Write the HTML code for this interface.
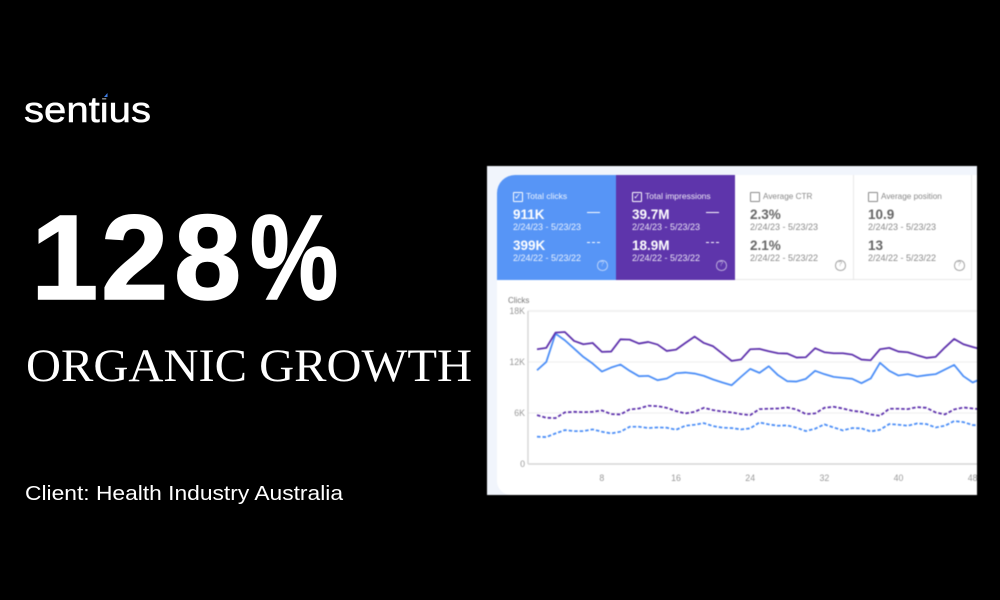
<!DOCTYPE html>
<html lang="en">
<head>
<meta charset="utf-8">
<title>Sentius case study: 128% organic growth</title>
<style>
html,body{margin:0;padding:0;background:#000;}
#stage{position:relative;width:1000px;height:600px;overflow:hidden;background:#000;font-family:"Liberation Sans",sans-serif;}
#headline{position:absolute;left:0;top:0;}
#shot{position:absolute;left:487px;top:166px;width:490px;height:329px;background:#f1f5fc;overflow:hidden;filter:blur(.4px);}
#white-panel{position:absolute;left:10px;top:9px;width:480px;height:320px;background:#fff;border-radius:18px 0 0 14px;}
.card{position:absolute;top:9px;height:105px;box-sizing:border-box;}
#c1{left:10px;width:119px;background:#5795f6;color:#fff;border-radius:18px 0 0 0;}
#c2{left:129px;width:119px;background:#5e35ab;color:#fff;}
#c3{left:248px;width:118px;background:#fff;color:#666;border-bottom:1px solid #e8e8e8;}
#c4{left:366px;width:119px;background:#fff;color:#666;border-left:1px solid #e8e8e8;border-right:1px solid #e8e8e8;border-bottom:1px solid #e8e8e8;}
.card span,.card i{position:absolute;display:block;white-space:nowrap;font-style:normal;}
.cb{left:16px;top:17px;width:7.5px;height:7.5px;border:1px solid currentColor;border-radius:1px;font-size:8px;line-height:8px;text-align:center;}
#c3 .cb,#c4 .cb{color:#8a8a8a;left:15px;}
#c4 .cb{left:14px;}
.lbl{left:29px;top:16px;font-size:8.5px;line-height:11px;opacity:.9;}
#c3 .lbl,#c4 .lbl{font-size:8.2px;color:#888;opacity:1;left:28px;}
#c4 .lbl{left:27px;}
.v1{left:16px;top:32px;font-size:13.5px;line-height:15px;font-weight:bold;}
.d1{left:16px;top:47px;font-size:9px;line-height:10px;opacity:.88;}
.v2{left:16px;top:63px;font-size:13.5px;line-height:15px;font-weight:bold;}
.d2{left:16px;top:78px;font-size:9px;line-height:10px;opacity:.88;}
#c3 .d1,#c3 .d2,#c4 .d1,#c4 .d2{color:#8a8a8a;opacity:1;}
#c3 .v1,#c3 .v2,#c3 .d1,#c3 .d2{left:15px;}
#c4 .v1,#c4 .v2,#c4 .d1,#c4 .d2{left:14px;}
.sol{left:90px;top:36.5px;width:13px;height:1.6px;background:#fff;}
.dsh{left:90px;top:66.5px;width:13px;height:0;border-top:1.5px dashed #fff;}
.help{left:100px;top:85px;width:8.5px;height:8.5px;border:1px solid currentColor;border-radius:50%;font-size:7px;line-height:8.5px;text-align:center;opacity:.6;}
#chart{position:absolute;left:0;top:0;}
</style>
</head>
<body>
<div id="stage">
<svg id="headline" width="1000" height="600">
  <text x="24" y="122" font-family="Liberation Sans, sans-serif" font-size="36" fill="#fff" stroke="#fff" stroke-width=".5" textLength="127" lengthAdjust="spacingAndGlyphs">sentius</text>
  <rect x="102" y="91" width="8" height="7.5" fill="#000"/>
  <polygon points="104,97 107.5,93 107.5,97" fill="#3f7fe8"/>
  <text x="31 101 174" y="299" font-family="Liberation Sans, sans-serif" font-weight="bold" font-size="121" fill="#fff" stroke="#fff" stroke-width="1.5">128</text>
  <text transform="translate(250,299) scale(.82,1)" font-family="Liberation Sans, sans-serif" font-weight="bold" font-size="121" fill="#fff" stroke="#fff" stroke-width="1.5">%</text>
  <text x="26" y="381" font-family="Liberation Serif, serif" font-size="47" fill="#fff" textLength="446" lengthAdjust="spacingAndGlyphs">ORGANIC GROWTH</text>
  <text x="25" y="500" font-family="Liberation Sans, sans-serif" font-size="20.5" fill="#fff" textLength="318" lengthAdjust="spacingAndGlyphs">Client: Health Industry Australia</text>
</svg>

<div id="shot">
  <div id="white-panel"></div>

  <div class="card" id="c1">
    <i class="cb">✓</i>
    <span class="lbl">Total clicks</span>
    <span class="v1">911K</span>
    <span class="d1">2/24/23 - 5/23/23</span>
    <i class="sol"></i>
    <span class="v2">399K</span>
    <span class="d2">2/24/22 - 5/23/22</span>
    <i class="dsh"></i>
    <i class="help">?</i>
  </div>
  <div class="card" id="c2">
    <i class="cb">✓</i>
    <span class="lbl">Total impressions</span>
    <span class="v1">39.7M</span>
    <span class="d1">2/24/23 - 5/23/23</span>
    <i class="sol"></i>
    <span class="v2">18.9M</span>
    <span class="d2">2/24/22 - 5/23/22</span>
    <i class="dsh"></i>
    <i class="help">?</i>
  </div>
  <div class="card" id="c3">
    <i class="cb"></i>
    <span class="lbl">Average CTR</span>
    <span class="v1">2.3%</span>
    <span class="d1">2/24/23 - 5/23/23</span>
    <span class="v2">2.1%</span>
    <span class="d2">2/24/22 - 5/23/22</span>
    <i class="help">?</i>
  </div>
  <div class="card" id="c4">
    <i class="cb"></i>
    <span class="lbl">Average position</span>
    <span class="v1">10.9</span>
    <span class="d1">2/24/23 - 5/23/23</span>
    <span class="v2">13</span>
    <span class="d2">2/24/22 - 5/23/22</span>
    <i class="help">?</i>
  </div>

  <svg id="chart" width="490" height="329"></svg>
</div>
</div>

<script>
const xTickLabels = [8, 16, 24, 32, 40, 48];
const yTickValues = [0, 6, 12, 18];
const yTickLabels = ["0", "6K", "12K", "18K"];
const impressionsCurrent = [13.50,13.66,15.46,15.53,14.48,14.09,14.24,13.19,13.23,14.67,14.63,14.17,14.36,14.05,13.30,13.46,14.24,14.99,14.24,13.85,12.99,12.13,12.29,13.50,13.54,13.27,13.03,12.99,12.52,12.56,13.62,13.15,13.03,13.03,12.87,12.29,12.21,13.50,13.66,13.23,13.15,12.80,12.48,12.60,13.70,14.71,14.09,13.77,13.46];
const clicksCurrent = [11.03,12.01,15.34,14.56,13.58,12.60,11.82,10.88,11.35,11.70,10.96,10.33,10.37,9.86,10.06,10.68,10.76,10.64,10.37,9.94,9.59,9.27,10.25,11.19,10.72,11.50,10.45,9.74,9.70,10.02,10.96,10.57,10.25,10.13,10.02,9.51,10.06,11.90,10.96,10.41,10.57,10.29,10.45,10.57,11.11,11.66,10.33,9.59,10.06];
const impressionsPrevious = [5.75,5.44,5.40,6.07,6.14,6.10,6.14,6.30,5.87,5.83,6.42,6.53,6.85,6.81,6.61,6.22,5.95,6.14,6.61,6.34,6.18,6.07,5.87,5.75,6.46,6.50,6.53,6.65,6.42,5.87,5.95,6.61,6.73,6.53,6.26,6.14,5.83,5.67,6.50,6.50,6.46,6.69,6.61,6.07,5.83,6.42,6.65,6.53,6.42];
const clicksPrevious = [3.21,3.17,3.60,3.99,3.87,3.87,4.07,3.80,3.60,3.80,4.38,4.38,4.23,4.30,4.27,4.03,4.50,4.62,4.81,4.46,4.27,4.23,4.07,4.19,4.89,4.66,4.50,4.54,4.27,3.87,4.15,4.66,4.30,3.95,4.23,4.19,3.83,4.03,4.70,4.62,4.50,4.77,4.70,4.30,4.50,5.05,4.93,4.58,4.54];

const svgNS = "http://www.w3.org/2000/svg";
const chart = document.getElementById("chart");
const plotLeft = 41, plotRight = 490, plotTop = 145, plotBottom = 298;
const xScale = function (day) { return 50 + (day - 1) * 9.27; };
const yScale = function (k) { return plotBottom - (k / 18) * (plotBottom - plotTop); };

function make(tag, attrs, text) {
  const el = document.createElementNS(svgNS, tag);
  for (const key in attrs) el.setAttribute(key, attrs[key]);
  if (text !== undefined) el.textContent = text;
  chart.appendChild(el);
  return el;
}

const axisTitle = make("text", {x: 21, y: 137, "font-size": 8, fill: "#777", "font-family": "Liberation Sans, sans-serif"}, "Clicks");



yTickValues.forEach(function (value, i) {
  const y = yScale(value);
  const strong = value === 0 || value === 18;
  const grid = make("line", {x1: plotLeft, x2: plotRight, y1: y, y2: y, stroke: value === 0 ? "#d6d6d6" : "#eeeeee", "stroke-width": strong ? 1.5 : 1});
  
  
  const label = make("text", {x: plotLeft - 3, y: y + 3, "font-size": 8.8, fill: "#999", "text-anchor": "end", "font-family": "Liberation Sans, sans-serif"}, yTickLabels[i]);
  
  
});

const yAxis = make("line", {x1: plotLeft, x2: plotLeft, y1: plotTop, y2: plotBottom, stroke: "#d6d6d6", "stroke-width": 1.4});



xTickLabels.forEach(function (day) {
  const label = make("text", {x: xScale(day), y: 315, "font-size": 8.8, fill: "#999", "text-anchor": "middle", "font-family": "Liberation Sans, sans-serif"}, String(day));
  
  
});

function linePoints(values) {
  return values.map(function (v, i) { return xScale(i + 1).toFixed(2) + "," + yScale(v).toFixed(2); }).join(" ");
}

const clicksCurrentLine = make("polyline", {points: linePoints(clicksCurrent), fill: "none", stroke: "#4d8ff7", "stroke-width": 1.8, "stroke-linejoin": "round"});



const impressionsCurrentLine = make("polyline", {points: linePoints(impressionsCurrent), fill: "none", stroke: "#5f33ad", "stroke-width": 1.8, "stroke-linejoin": "round"});



const clicksPreviousLine = make("polyline", {points: linePoints(clicksPrevious), fill: "none", stroke: "#4d8ff7", "stroke-width": 1.8, "stroke-dasharray": "3.5 2"});



const impressionsPreviousLine = make("polyline", {points: linePoints(impressionsPrevious), fill: "none", stroke: "#5f33ad", "stroke-width": 1.8, "stroke-dasharray": "3.5 2"});


</script>
</body>
</html>
